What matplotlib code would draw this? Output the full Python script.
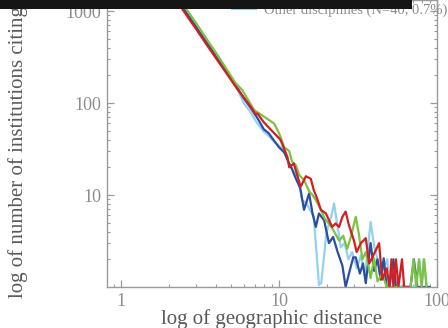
import matplotlib
matplotlib.use("Agg")
import matplotlib.pyplot as plt
from matplotlib.patches import Rectangle
from matplotlib.ticker import LogLocator, NullFormatter, FixedLocator, FixedFormatter

plt.rcParams['font.family'] = ['Liberation Serif', 'DejaVu Serif']

# geographic distance / number of citing institutions
x_blue = [2.0, 2.5, 3.0, 3.5, 4.0, 4.7, 5.4, 6.0, 6.7, 7.4, 8.0, 8.6, 9.3, 10.0, 10.8,
          11.6, 12.1, 12.8, 13.6, 14.4, 15.5, 16.3, 17.1, 17.9, 19.3, 20.7, 22.0, 23.5,
          25.2, 26.4, 28.0, 29.5, 30.6, 32.5, 34.0, 35.4, 38.0, 40.0, 42.0, 44.0, 46.0,
          48.0, 50.0, 53.0, 55.0, 62.0, 68.0, 71.4, 75.0, 82.0, 90.0]
y_blue = [1850, 1050, 665, 450, 320, 212, 150, 112, 86, 66, 52, 47, 39, 33, 29,
          22, 19, 15, 12, 6.9, 10.4, 6.3, 4.5, 6.3, 5.3, 3.0, 3.5, 2.4,
          1.7, 1.0, 1.5, 2.1, 2.1, 1.4, 1.8, 1.1, 3.0, 1.5, 2.0, 1.2, 2.05,
          1.0, 1.0, 2.0, 1.0, 1.0, 1.0, 2.0, 1.0, 1.0, 1.0]

x_red = [2.0, 2.5, 3.0, 3.5, 4.0, 4.7, 5.4, 6.15, 6.6, 7.1, 7.3, 8.0, 8.9, 10.2, 11.3,
         11.6, 12.4, 13.1, 13.7, 14.8, 15.9, 16.6, 17.5, 18.4, 19.8, 21.7, 22.8, 24.0,
         25.2, 26.4, 27.7, 29.8, 31.0, 33.0, 35.4, 37.2, 39.0, 43.0, 45.0, 48.0, 50.0,
         51.5, 53.0, 55.0, 57.0, 60.0, 62.0, 66.0]
y_red = [1760, 990, 630, 425, 305, 205, 145, 108, 92, 76, 77, 62, 51, 40, 26,
         20, 22, 16, 12.3, 16, 15, 11.3, 9, 6.9, 6.3, 4.5, 4.9, 4.5,
         5.8, 6.6, 4.7, 3.2, 2.4, 3.0, 3.4, 1.8, 2.1, 3.0, 1.2, 1.6, 1.0,
         2.0, 1.0, 2.0, 1.0, 2.0, 1.0, 1.0]

x_green = [2.0, 2.5, 3.0, 3.5, 4.0, 4.7, 5.3, 5.86, 6.95, 8.04, 9.3, 10.0, 10.8, 11.6,
           12.1, 12.8, 13.4, 14.4, 15.5, 16.3, 17.1, 18.0, 19.5, 20.7, 22.0, 24.0, 25.5,
           27.0, 28.5, 30.6, 32.0, 33.7, 35.5, 38.0, 40.0, 42.0, 45.0, 48.0, 56.0, 64.0,
           68.0, 71.0, 74.0, 77.0, 80.0, 83.0, 86.0]
y_green = [2000, 1150, 730, 490, 350, 228, 165, 138, 84, 71, 60, 47, 33, 30,
           23, 21, 16.5, 14.6, 11, 10, 8.8, 7.5, 5.5, 4.9, 4.2, 3.2, 3.6,
           2.6, 3.5, 5.8, 3.8, 2.0, 2.4, 1.25, 2.05, 1.15, 1.4, 1.0, 1.0, 1.0,
           1.0, 2.0, 1.0, 2.0, 1.0, 2.0, 1.0]

x_light = [2.0, 2.5, 3.0, 3.5, 4.0, 4.7, 5.4, 6.0, 6.6, 7.2, 8.0, 8.6, 9.3, 10.5, 11.0,
           11.6, 12.2, 12.8, 13.7, 14.0, 15.0, 16.6, 17.9, 18.5, 20.0, 21.5, 22.3, 23.5,
           24.6, 26.0, 27.5, 29.0, 31.0, 33.0, 35.0, 36.5, 38.0, 40.0, 42.0, 44.0, 46.0,
           48.5, 50.0, 60.0, 73.0, 77.0, 80.0, 82.0, 86.0, 90.0]
y_light = [1830, 1040, 660, 445, 318, 210, 146, 99, 80, 62, 49, 44, 38, 32, 27,
           22, 19, 16, 11.3, 8.8, 8.0, 5.8, 1.05, 1.1, 4.0, 6.0, 8.1, 4.5,
           2.7, 3.0, 2.0, 2.4, 1.6, 2.2, 1.3, 2.6, 5.1, 2.8, 2.0, 1.3, 1.6,
           2.0, 1.0, 1.0, 1.0, 2.0, 1.0, 2.0, 1.0, 1.0]

labels = ["Social sciences (41.2%)", "Natural sciences (35.3%)",
          "Engineering (21.6%)", "Other disciplines (N=40, 0.7%)"]

fig = plt.figure(figsize=(4.48, 3.28), dpi=100)
ax = fig.add_axes([107 / 448, 41 / 328, 330 / 448, 287 / 328])

l_light, = ax.plot(x_light, y_light, color='#93d2ef', lw=1.6)
l_blue, = ax.plot(x_blue, y_blue, color='#2b4f9e', lw=1.6)
l_green, = ax.plot(x_green, y_green, color='#7cc243', lw=1.6)
l_red, = ax.plot(x_red, y_red, color='#d41f22', lw=1.6)

ax.set_xscale('log')
ax.set_yscale('log')
ax.set_xlim(0.815, 100)
ax.set_ylim(1, 1318)

gray = '#9a9a9a'
for s in ax.spines.values():
    s.set_color(gray)
    s.set_linewidth(1.0)

ax.xaxis.set_major_locator(FixedLocator([1, 10, 100]))
ax.xaxis.set_major_formatter(FixedFormatter(['1', '10', '100']))
ax.yaxis.set_major_locator(FixedLocator([10, 100, 1000]))
ax.yaxis.set_major_formatter(FixedFormatter(['10', '100', '1000']))
ax.xaxis.set_minor_locator(LogLocator(base=10, subs=range(2, 10)))
ax.yaxis.set_minor_locator(LogLocator(base=10, subs=range(2, 10)))
ax.xaxis.set_minor_formatter(NullFormatter())
ax.yaxis.set_minor_formatter(NullFormatter())
ax.tick_params(which='both', direction='in', top=True, right=True, color=gray,
               labelcolor='#8c8c8c', labelsize=13)
ax.tick_params(which='major', length=5, width=0.9, pad=4)
ax.tick_params(which='minor', length=2.5, width=0.8)

ax.set_xlabel('log of geographic distance', fontsize=15, color='#5a5a5a', labelpad=0)
ax.set_ylabel('log of number of institutions citing', fontsize=15, color='#5a5a5a')
ax.yaxis.set_label_coords(-0.24, 0.47)

ax.legend([l_blue, l_red, l_green, l_light], labels, loc='lower right',
          bbox_to_anchor=(447 / 448, 1 - 17 / 328), bbox_transform=fig.transFigure,
          frameon=False, fontsize=10.5, borderpad=0, borderaxespad=0,
          handlelength=1.7, handletextpad=0.5, labelcolor='#8c8c8c')

# dark band across the top of the picture
fig.add_artist(Rectangle((0, 1 - 9 / 328), 412 / 448, 9 / 328, transform=fig.transFigure,
                         facecolor='#151515', edgecolor='none', zorder=20))

fig.savefig('out.png', dpi=100)
